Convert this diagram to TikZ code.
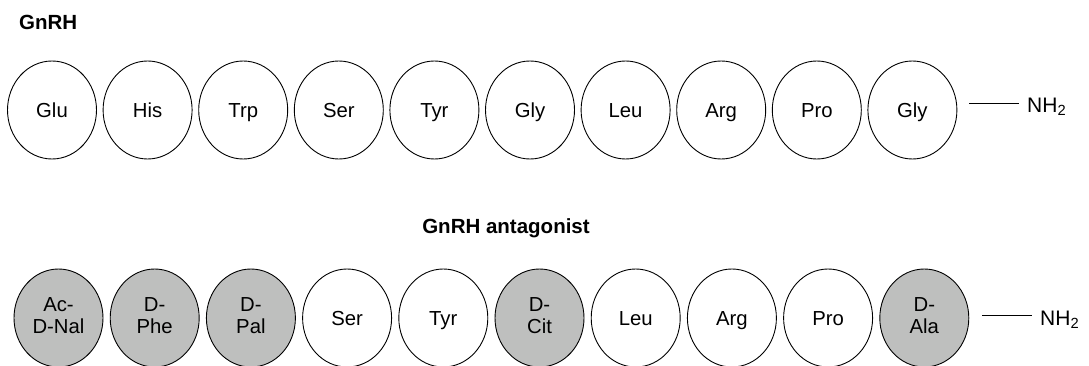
\documentclass[tikz,border=0pt]{standalone}
\usepackage{fontspec}
\setmainfont{Liberation Sans}
\usetikzlibrary{shapes.geometric}
\definecolor{resgray}{RGB}{190,191,190}
\newcommand{\labstrut}{\rule[-5pt]{0pt}{24.5pt}}
\begin{document}
\begin{tikzpicture}[x=1pt,y=-1pt,
  res/.style={ellipse, draw=black, line width=0.9pt, minimum width=89pt, minimum height=98pt, inner sep=0pt, align=center,
    font=\fontsize{20.3}{22}\selectfont, execute at begin node={\labstrut}, execute at end node={\labstrut}},
  dres/.style={res, fill=resgray},
  title/.style={font=\fontsize{20.5}{24}\selectfont\bfseries, inner sep=0pt},
  amine/.style={anchor=west, inner xsep=8pt, inner ysep=0pt, font=\fontsize{21}{24}\selectfont},
  bond/.style={line width=0.9pt}]
\useasboundingbox (0,0) rectangle (1089,366);
\node[title, anchor=west] (t1) at (19,22) {GnRH};
\node[title] (t2) at (506,228) {GnRH antagonist};
% top row
\foreach \n/\lab [count=\i from 0] in {a1/Glu,a2/His,a3/Trp,a4/Ser,a5/Tyr,a6/Gly,a7/Leu,a8/Arg,a9/Pro,a10/Gly}{
  \node[res] (\n) at (52+95.6*\i,110) {\lab};
}
\node[amine] (nh1) at (1019,107) {NH\textsubscript{2}};
\coordinate (c1) at (969,103);
\draw[bond] (c1) -- (nh1.west |- c1);
% bottom row
\node[dres] (b1) at (58.5,318) {Ac-\\D-Nal};
\node[dres] (b2) at (154.7,318) {D-\\Phe};
\node[dres] (b3) at (250.9,318) {D-\\Pal};
\node[res] (b4) at (347.1,318) {Ser};
\node[res] (b5) at (443.3,318) {Tyr};
\node[dres] (b6) at (539.5,318) {D-\\Cit};
\node[res] (b7) at (635.7,318) {Leu};
\node[res] (b8) at (731.9,318) {Arg};
\node[res] (b9) at (828.1,318) {Pro};
\node[dres] (b10) at (924.3,318) {D-\\Ala};
\node[amine] (nh2) at (1032,320) {NH\textsubscript{2}};
\coordinate (c2) at (982,315);
\draw[bond] (c2) -- (nh2.west |- c2);
\end{tikzpicture}
\end{document}
